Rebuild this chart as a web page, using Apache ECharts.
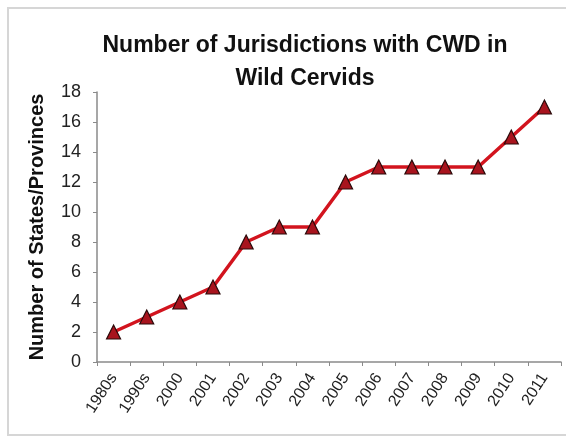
<!DOCTYPE html>
<html>
<head>
<meta charset="utf-8">
<script src="https://cdn.jsdelivr.net/npm/echarts@6/dist/echarts.min.js"></script>
<style>
  html, body { margin: 0; padding: 0; background: #fff; }
  #chart { width: 566px; height: 445px; }
</style>
</head>
<body>
<div id="chart"></div>
<script>
// Jurisdictions (states/provinces) with chronic wasting disease in wild cervids
const periods = ['1980s', '1990s', '2000', '2001', '2002', '2003', '2004', '2005',
                 '2006', '2007', '2008', '2009', '2010', '2011'];
const jurisdictions = [2, 3, 4, 5, 8, 9, 9, 12, 13, 13, 13, 13, 15, 17];
const yTicks = [0, 2, 4, 6, 8, 10, 12, 14, 16, 18];

const chart = echarts.init(document.getElementById('chart'), null, { renderer: 'canvas' });

chart.setOption({
  backgroundColor: '#ffffff',
  animation: false,
  graphic: [{
    type: 'rect',
    silent: true,
    shape: { x: 8, y: 8, width: 620, height: 427 },
    style: { fill: 'none', stroke: '#d6d6d6', lineWidth: 2 }
  }],
  title: {
    text: 'Number of Jurisdictions with CWD in\nWild Cervids',
    left: 300,
    textAlign: 'center',
    top: 24,
    textStyle: {
      fontFamily: 'Liberation Sans, Arial, sans-serif',
      fontWeight: 'bold',
      fontSize: 23,
      lineHeight: 33,
      color: '#111'
    }
  },
  grid: { left: 97, right: 5, top: 92, bottom: 83 },
  xAxis: {
    type: 'category',
    data: periods,
    boundaryGap: true,
    axisLine: { lineStyle: { color: '#8a8a8a', width: 1.5 } },
    axisTick: { show: true, length: 4, lineStyle: { color: '#8a8a8a' } },
    axisLabel: {
      interval: 0,
      rotate: 57,
      margin: 13,
      fontFamily: 'Liberation Sans, Arial, sans-serif',
      fontSize: 16,
      color: '#222'
    }
  },
  yAxis: {
    type: 'value',
    min: yTicks[0],
    max: yTicks[yTicks.length - 1],
    interval: 2,
    name: 'Number of States/Provinces',
    nameLocation: 'middle',
    nameGap: 50,
    nameRotate: 90,
    nameTextStyle: {
      fontFamily: 'Liberation Sans, Arial, sans-serif',
      fontWeight: 'bold',
      fontSize: 20,
      color: '#111'
    },
    axisLine: { show: true, lineStyle: { color: '#8a8a8a', width: 1.5 } },
    axisTick: { show: true, length: 4, lineStyle: { color: '#8a8a8a' } },
    splitLine: { show: false },
    axisLabel: {
      margin: 16,
      fontFamily: 'Liberation Sans, Arial, sans-serif',
      fontSize: 18,
      color: '#222'
    }
  },
  series: [{
    type: 'line',
    data: jurisdictions,
    symbol: 'triangle',
    symbolSize: 14,
    lineStyle: { color: '#d2141e', width: 3.5 },
    itemStyle: { color: '#a8141e', borderColor: '#2a0a0a', borderWidth: 1.2 },
    z: 3
  }]
});
</script>
</body>
</html>
